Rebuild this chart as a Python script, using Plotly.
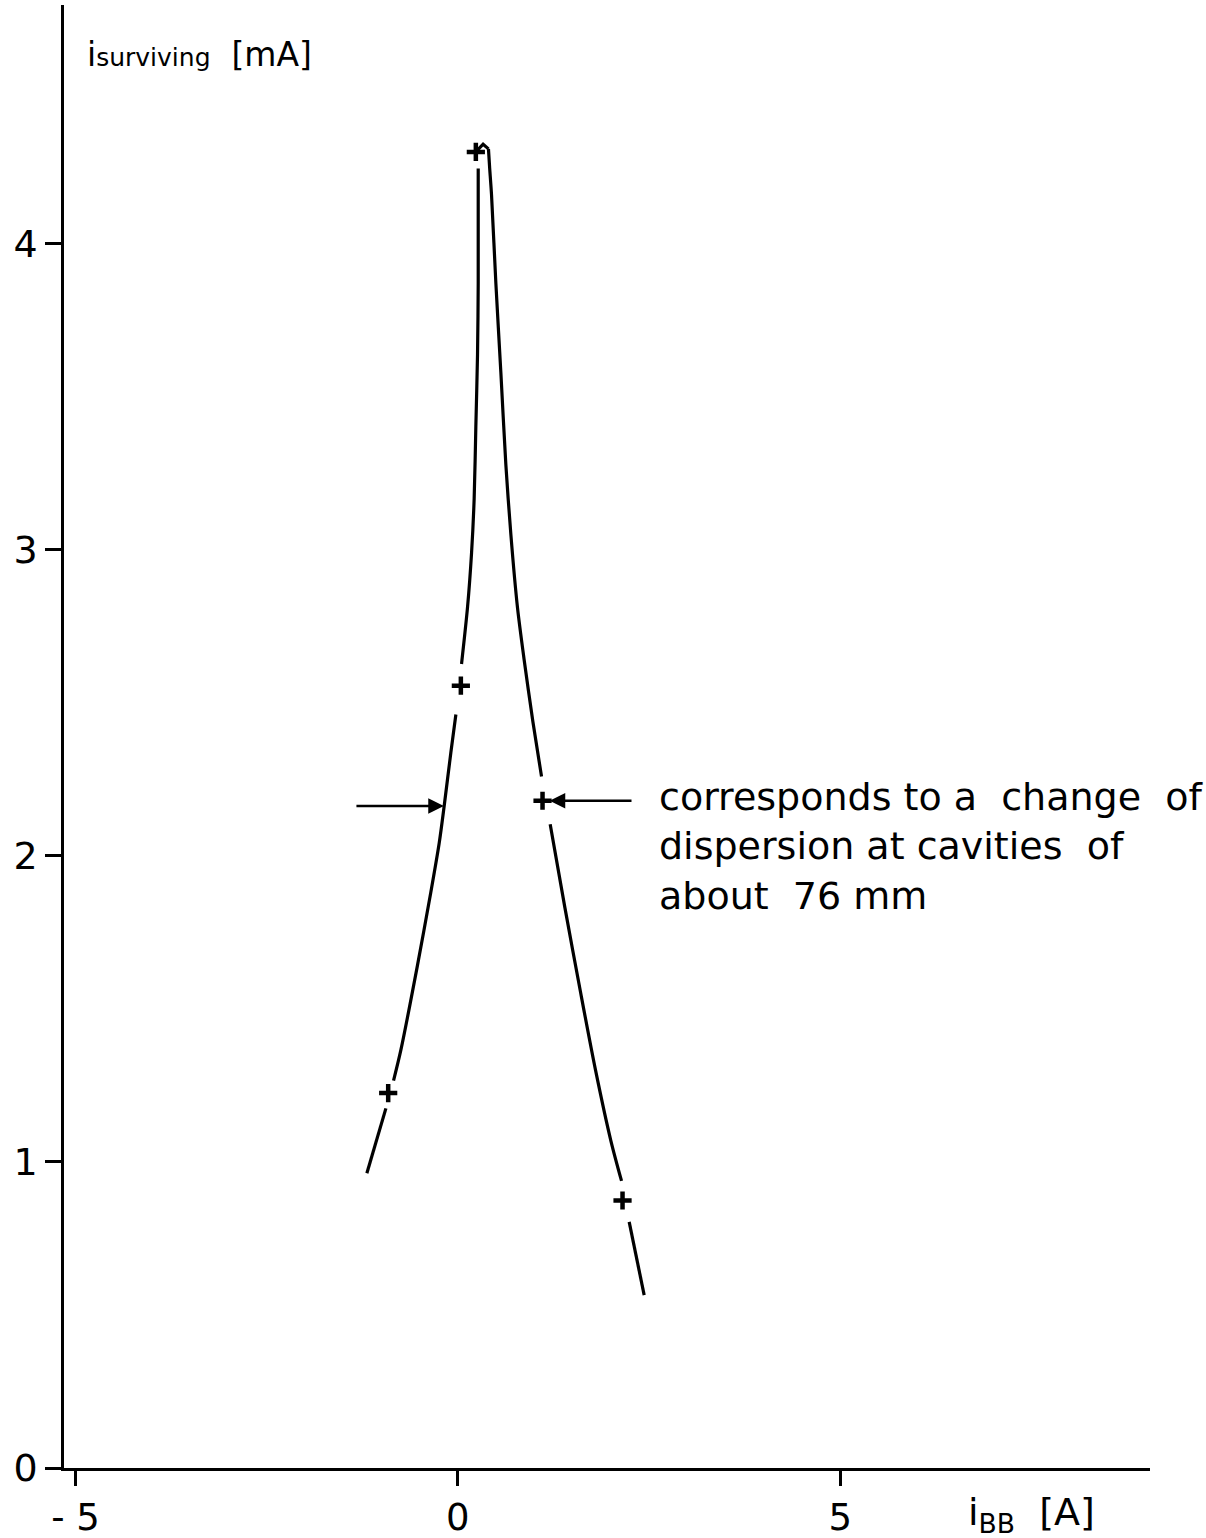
import plotly.graph_objects as go

# ---- data (i_BB [A], i_surviving [mA]) ----
# left branch, three drawn segments (gaps around the measured points)
left_seg1_x = [-1.19, -0.941]
left_seg1_y = [0.963, 1.175]
left_seg2_x = [-0.841, -0.745, -0.527, -0.353, -0.244, -0.179, -0.092, -0.026]
left_seg2_y = [1.266, 1.366, 1.644, 1.882, 2.042, 2.163, 2.337, 2.462]
left_seg3_x = [0.048, 0.127, 0.179, 0.213, 0.235, 0.257, 0.266, 0.266]
left_seg3_y = [2.627, 2.814, 2.990, 3.167, 3.402, 3.637, 3.871, 4.246]

# right branch, three drawn segments
right_seg1_x = [0.235, 0.33, 0.40, 0.415, 0.44, 0.497, 0.562, 0.627, 0.693, 0.78, 0.867, 0.98, 1.094]
right_seg1_y = [4.30, 4.325, 4.31, 4.25, 4.16, 3.87, 3.58, 3.28, 3.05, 2.81, 2.64, 2.44, 2.259]
right_seg2_x = [1.207, 1.40, 1.60, 1.80, 2.00, 2.14]
right_seg2_y = [2.103, 1.83, 1.56, 1.30, 1.07, 0.938]
right_seg3_x = [2.24, 2.436]
right_seg3_y = [0.804, 0.565]

# measured points (+)
meas_x = [-0.911, 0.039, 0.235, 1.107, 2.153]
meas_y = [1.225, 2.556, 4.300, 2.180, 0.874]

# arrows marking the width (head x, tail x, y)
arrow_left = (-0.183, -1.346, 2.163)
arrow_right = (1.20, 2.29, 2.18)

x_ticks = [-5, 0, 5]
x_ticktext = ["- 5", "0", "5"]
y_ticks = [0, 1, 2, 3, 4]
y_ticktext = ["0", "1", "2", "3", "4"]

NB = "\u00a0"
note_lines = ["corresponds to a" + NB + NB + "change" + NB + NB + "of",
              "dispersion at cavities" + NB + NB + "of",
              "about" + NB + NB + "76 mm"]

FONT = "DejaVu Sans"

fig = go.Figure()

def seg(xs, ys, shape="linear"):
    fig.add_trace(go.Scatter(x=xs, y=ys, mode="lines",
                             line=dict(color="black", width=3.2, shape=shape,
                                       smoothing=0.8),
                             hoverinfo="skip", showlegend=False))

seg(left_seg1_x, left_seg1_y)
seg(left_seg2_x, left_seg2_y, "spline")
seg(left_seg3_x, left_seg3_y, "spline")
seg(right_seg1_x[:3], right_seg1_y[:3])
seg(right_seg1_x[2:], right_seg1_y[2:], "spline")
seg(right_seg2_x, right_seg2_y, "spline")
seg(right_seg3_x, right_seg3_y)

fig.add_trace(go.Scatter(x=meas_x, y=meas_y, mode="markers",
                         marker=dict(symbol="cross-thin", size=13,
                                     line=dict(color="black", width=4.5)),
                         showlegend=False))

# arrows
for hx, tx, yy in [arrow_left, arrow_right]:
    fig.add_annotation(x=hx, y=yy, ax=tx, ay=yy, xref="x", yref="y",
                       axref="x", ayref="y", text="", showarrow=True,
                       arrowhead=2, arrowsize=1.3, arrowwidth=2.4,
                       arrowcolor="black")

# note text
fig.add_annotation(x=0.546, y=0.4245, xref="paper", yref="paper",
                   xanchor="left", yanchor="middle", align="left",
                   showarrow=False, text="<br>".join(note_lines),
                   font=dict(family=FONT, size=38, color="black"))

# axis titles
fig.add_annotation(x=0.0195, y=0.966, xref="paper", yref="paper",
                   xanchor="left", yanchor="middle", showarrow=False,
                   text="i<span style='font-size:25px'>surviving</span>" + NB + NB + "[mA]",
                   font=dict(family=FONT, size=33, color="black"))
fig.add_annotation(x=0.831, y=-0.032, xref="paper", yref="paper",
                   xanchor="left", yanchor="middle", showarrow=False,
                   text="i<sub>BB</sub>" + NB + NB + "[A]",
                   font=dict(family=FONT, size=38, color="black"))

fig.update_xaxes(range=[-5.15, 9.05], showline=True, linecolor="black",
                 linewidth=2.5, ticks="outside", ticklen=15, tickwidth=2.5,
                 tickcolor="black", tickvals=x_ticks, ticktext=x_ticktext,
                 tickfont=dict(family=FONT, size=37, color="black"),
                 showgrid=False, zeroline=False, automargin=False)
fig.update_yaxes(range=[0, 4.78], showline=True, linecolor="black",
                 linewidth=2.5, ticks="outside", ticklen=16, tickwidth=2.5,
                 tickcolor="black", tickvals=y_ticks, ticktext=y_ticktext,
                 tickfont=dict(family=FONT, size=38, color="black"),
                 showgrid=False, zeroline=False, automargin=False)

fig.update_layout(width=1206, height=1538,
                  margin=dict(l=64, r=56, t=5, b=70),
                  paper_bgcolor="white", plot_bgcolor="white")

fig.write_html("out.html")
